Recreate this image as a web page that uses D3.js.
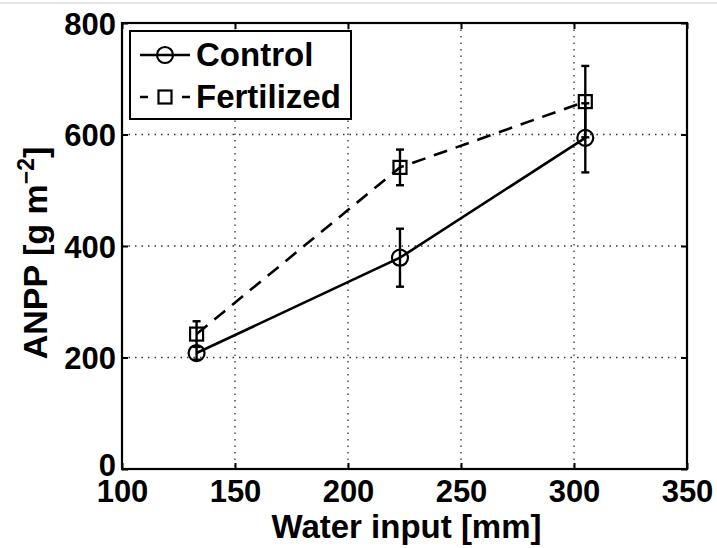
<!DOCTYPE html>
<html>
<head>
<meta charset="utf-8">
<script src="https://cdn.jsdelivr.net/npm/d3@7"></script>
<style>
  html, body { margin: 0; padding: 0; background: #fff; }
  svg { display: block; }
  text { font-family: "Liberation Sans", Arial, Helvetica, sans-serif; font-weight: bold; fill: #000; }
</style>
</head>
<body>
<svg id="chart" width="717" height="548"></svg>
<script>
// Water input (mm) for each site-year
const waterInput = [133, 223, 305];
// ANPP means and error bar half-widths (g m^-2)
const controlMean = [208, 379, 594];
const controlErr = [12, 52, 62];
const fertilizedMean = [242, 541, 659];
const fertilizedErr = [23, 32, 64];
const xTicks = [100, 150, 200, 250, 300, 350];
const yTicks = [0, 200, 400, 600, 800];
const seriesNames = ["Control", "Fertilized"];

const svg = d3.select("#chart");
const W = 717, H = 548;
const plot = { left: 122, right: 687, top: 23, bottom: 469 };

// faint frame line along the top edge of the image
svg.append("line").attr("x1", 0).attr("x2", W).attr("y1", 3).attr("y2", 3)
  .attr("stroke", "#e6e6e6").attr("stroke-width", 2);

const x = d3.scaleLinear().domain([100, 350]).range([plot.left, plot.right]);
const y = d3.scaleLinear().domain([0, 800]).range([plot.bottom, plot.top]);

// dotted grid
const grid = svg.append("g").attr("stroke", "#333").attr("stroke-width", 1.3)
  .attr("stroke-dasharray", "1.5,5");
grid.selectAll(".gx").data(xTicks.slice(1, -1)).join("line")
  .attr("x1", d => x(d)).attr("x2", d => x(d))
  .attr("y1", plot.top).attr("y2", plot.bottom);
grid.selectAll(".gy").data(yTicks.slice(1, -1)).join("line")
  .attr("x1", plot.left).attr("x2", plot.right)
  .attr("y1", d => y(d)).attr("y2", d => y(d));

// axes with inward ticks
const tickFont = 31, titleFont = 33, legendFont = 33;
const axB = svg.append("g").attr("transform", `translate(0,${plot.bottom})`)
  .call(d3.axisBottom(x).tickValues(xTicks).tickSizeInner(-6).tickSizeOuter(0).tickPadding(11));
const axT = svg.append("g").attr("transform", `translate(0,${plot.top})`)
  .call(d3.axisTop(x).tickValues(xTicks).tickSizeInner(-6).tickSizeOuter(0).tickFormat(""));
const axL = svg.append("g").attr("transform", `translate(${plot.left},0)`)
  .call(d3.axisLeft(y).tickValues(yTicks).tickSizeInner(-6).tickSizeOuter(0).tickPadding(6));
const axR = svg.append("g").attr("transform", `translate(${plot.right},0)`)
  .call(d3.axisRight(y).tickValues(yTicks).tickSizeInner(-6).tickSizeOuter(0).tickFormat(""));
[axB, axT, axL, axR].forEach(a => {
  a.select(".domain").remove();
  a.selectAll(".tick line").attr("stroke", "#000").attr("stroke-width", 2);
  a.selectAll("text").attr("font-size", tickFont).attr("font-family", null).attr("fill", "#000");
});
axB.selectAll("text").attr("dy", "0.72em");
axL.selectAll("text").attr("dy", "0.36em");
axL.selectAll(".tick").filter(d => d === 0).select("text").attr("dy", "0.2em");

// plot frame
svg.append("rect").attr("x", plot.left).attr("y", plot.top)
  .attr("width", plot.right - plot.left).attr("height", plot.bottom - plot.top)
  .attr("fill", "none").attr("stroke", "#000").attr("stroke-width", 2.2);

// axis titles
svg.append("text").attr("x", (plot.left + plot.right) / 2 + 2).attr("y", 538)
  .attr("text-anchor", "middle").attr("font-size", titleFont).text("Water input [mm]");
const yl = svg.append("text").attr("transform", `translate(47,${(plot.top + plot.bottom) / 2 + 7}) rotate(-90)`)
  .attr("text-anchor", "middle").attr("font-size", 34);
yl.append("tspan").text("ANPP [g m");
yl.append("tspan").attr("dy", -13).attr("font-size", 23).text("\u22122");
yl.append("tspan").attr("dy", 13).text("]");

const line = d3.line().x(d => x(d[0])).y(d => y(d[1]));
const series = [
  { name: seriesNames[0], mean: controlMean, err: controlErr, dash: null, marker: "circle" },
  { name: seriesNames[1], mean: fertilizedMean, err: fertilizedErr, dash: "14,9", marker: "square" }
];

function drawMarker(g, type, cx, cy) {
  if (type === "circle") {
    g.append("circle").attr("cx", cx).attr("cy", cy).attr("r", 8)
      .attr("fill", "none").attr("stroke", "#000").attr("stroke-width", 2.2);
  } else {
    g.append("rect").attr("x", cx - 6.5).attr("y", cy - 6.5).attr("width", 13).attr("height", 13)
      .attr("fill", "none").attr("stroke", "#000").attr("stroke-width", 2.2);
  }
}

series.forEach(s => {
  const pts = waterInput.map((w, i) => [w, s.mean[i]]);
  svg.append("path").datum(pts).attr("d", line)
    .attr("fill", "none").attr("stroke", "#000").attr("stroke-width", 2.6)
    .attr("stroke-dasharray", s.dash);
  const g = svg.append("g");
  waterInput.forEach((w, i) => {
    const cx = x(w), lo = y(s.mean[i] - s.err[i]), hi = y(s.mean[i] + s.err[i]);
    g.append("line").attr("x1", cx).attr("x2", cx).attr("y1", lo).attr("y2", hi)
      .attr("stroke", "#000").attr("stroke-width", 2.4);
    [lo, hi].forEach(yy => g.append("line").attr("x1", cx - 4).attr("x2", cx + 4)
      .attr("y1", yy).attr("y2", yy).attr("stroke", "#000").attr("stroke-width", 2.4));
    drawMarker(g, s.marker, cx, y(s.mean[i]));
  });
});

// legend
const lg = svg.append("g");
lg.append("rect").attr("x", 130).attr("y", 31).attr("width", 221).attr("height", 88)
  .attr("fill", "#fff").attr("stroke", "#000").attr("stroke-width", 2);
series.forEach((s, i) => {
  const cy = 55 + i * 42;
  lg.append("line").attr("x1", 140).attr("x2", 190).attr("y1", cy).attr("y2", cy)
    .attr("stroke", "#000").attr("stroke-width", 2.4)
    .attr("stroke-dasharray", s.dash ? "8,34" : null);
  drawMarker(lg, s.marker, 165, cy);
  lg.append("text").attr("x", 196).attr("y", cy + 11).attr("font-size", legendFont).text(s.name);
});
</script>
</body>
</html>
